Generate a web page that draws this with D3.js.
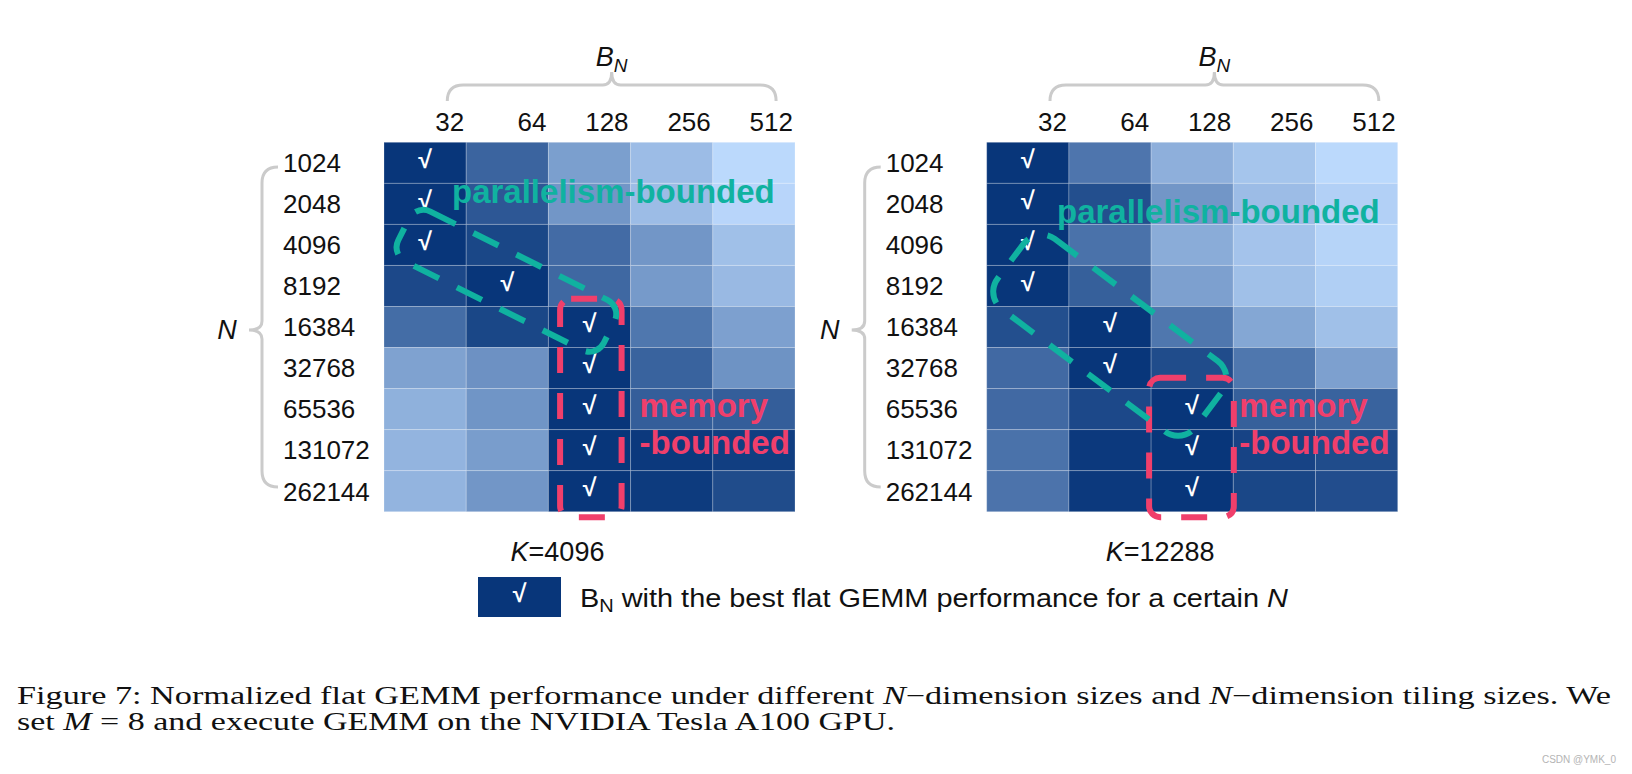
<!DOCTYPE html>
<html><head><meta charset="utf-8">
<script src="https://cdn.jsdelivr.net/npm/d3@7"></script>
<style>body{margin:0;background:#fff;} svg{display:block;}</style>
</head><body>
<svg id="chart" width="1632" height="774"></svg>
<script>
// ---------- data ----------
const nSizes = ["1024","2048","4096","8192","16384","32768","65536","131072","262144"];
const bnSizes = ["32","64","128","256","512"];
// normalized flat GEMM performance (rows = N, cols = B_N)
const perfK4096 = [
 [1.00,0.72,0.37,0.19,0.02],
 [1.00,0.80,0.42,0.19,0.04],
 [1.00,0.90,0.68,0.42,0.17],
 [0.89,1.00,0.70,0.40,0.21],
 [0.67,0.90,1.00,0.61,0.36],
 [0.35,0.45,1.00,0.73,0.44],
 [0.26,0.43,1.00,0.76,0.76],
 [0.24,0.38,1.00,0.98,0.95],
 [0.24,0.42,1.00,0.97,0.87]];
const perfK12288 = [
 [1.00,0.62,0.27,0.14,0.02],
 [1.00,0.85,0.42,0.19,0.07],
 [1.00,0.64,0.29,0.15,0.05],
 [1.00,0.75,0.36,0.17,0.08],
 [0.85,1.00,0.61,0.32,0.17],
 [0.69,1.00,0.87,0.61,0.36],
 [0.69,0.89,1.00,0.75,0.73],
 [0.64,0.98,1.00,0.92,0.87],
 [0.63,0.98,1.00,0.90,0.86]];
const bestK4096 = ["32","32","32","64","128","128","128","128","128"];
const bestK12288 = ["32","32","32","32","64","64","128","128","128"];
const kValues = ["4096","12288"];
const legendText = " with the best flat GEMM performance for a certain ";

// ---------- layout ----------
const svg = d3.select("#chart");
const TOP = 142.3, H = 369.4, W = 411;
const TEAL = "#10b2a0", PINK = "#f03f6b", BRACE = "#cbcbcb";
const color = d3.scaleLinear().domain([0,1]).range(["#bfdcff","#08367a"]).interpolate(d3.interpolateRgb);
const LABEL_FONT = "'Liberation Sans', Arial, sans-serif";

const panels = [
 {x0:384, perf:perfK4096, best:bestK4096, k:kValues[0],
  teal:{a:["4096","32"], b:["16384","128"], dx:0, dy:-4.7, ext0:24, ext1:22, w:56, r:16},
  pink:{col:"128", row:"16384", l:11.7, rr:-9, t:-7.7},
  par:{dx:68, base:61}, mem:{col:"256", dx:9}},
 {x0:986.7, perf:perfK12288, best:bestK12288, k:kValues[1],
  teal:{a:["8192","32"], b:["65536","128"], dx:3, dy:-10, ext0:25, ext1:17, w:88, r:22},
  pink:{col:"128", row:"65536", l:-2, rr:0.5, t:-10.7},
  par:{dx:70.3, base:81}, mem:{col:"256", dx:6}}
];

panels.forEach(p => {
  const x = d3.scaleBand().domain(bnSizes).range([p.x0, p.x0 + W]);
  const y = d3.scaleBand().domain(nSizes).range([TOP, TOP + H]);
  const bw = x.bandwidth(), bh = y.bandwidth();
  const g = svg.append("g");

  // cells
  const cells = [];
  nSizes.forEach((n,i) => bnSizes.forEach((b,j) => cells.push({n, b, v:p.perf[i][j]})));
  g.selectAll("rect.cell").data(cells).join("rect").attr("class","cell")
    .attr("x", d => x(d.b)).attr("y", d => y(d.n)).attr("width", bw).attr("height", bh)
    .attr("fill", d => color(d.v))
    .attr("stroke", "rgba(255,255,255,0.22)").attr("stroke-width", 1);

  // check marks
  g.selectAll("text.chk").data(nSizes.map((n,i) => ({n, b:p.best[i]}))).join("text")
    .attr("class","chk").attr("x", d => x(d.b) + bw/2).attr("y", d => y(d.n) + bh/2 - 3.5)
    .attr("dy","0.35em").attr("text-anchor","middle").attr("fill","#fff")
    .style("font", `bold 25px ${LABEL_FONT}`).text("√");

  // column labels (right-aligned on band edge)
  g.selectAll("text.col").data(bnSizes).join("text").attr("class","col")
    .attr("x", d => x(d) + bw - 2).attr("y", 131).attr("text-anchor","end")
    .attr("fill","#111").style("font", `26px ${LABEL_FONT}`).text(d => d);

  // row labels
  g.selectAll("text.row").data(nSizes).join("text").attr("class","row")
    .attr("x", p.x0 - 101).attr("y", d => y(d) + bh/2).attr("dy","0.36em")
    .attr("fill","#111").style("font", `26px ${LABEL_FONT}`).text(d => d);

  // top brace
  const bx1 = x(bnSizes[0]) + bw*0.77, bx2 = x(bnSizes[4]) + bw*0.77, tip = (bx1+bx2)/2;
  g.append("path").attr("fill","none").attr("stroke",BRACE).attr("stroke-width",3)
    .attr("d", `M${bx1},101 Q${bx1},85 ${bx1+16},85 L${tip-9},85 Q${tip},85 ${tip},72 Q${tip},85 ${tip+9},85 L${bx2-16},85 Q${bx2},85 ${bx2},101`);
  const bn = g.append("text").attr("x", tip).attr("y", 66).attr("text-anchor","middle")
    .attr("fill","#111").style("font", `italic 27px ${LABEL_FONT}`);
  bn.append("tspan").text("B");
  bn.append("tspan").attr("dy", 6).style("font-size","19px").text("N");

  // left brace
  const ymid = y("16384") + bh/2 + 3;
  const lx = p.x0 - 122, ex = p.x0 - 106, tx = p.x0 - 135;
  g.append("path").attr("fill","none").attr("stroke",BRACE).attr("stroke-width",3)
    .attr("d", `M${ex},167 Q${lx},167 ${lx},183 L${lx},${ymid-9} Q${lx},${ymid} ${tx},${ymid} Q${lx},${ymid} ${lx},${ymid+9} L${lx},471 Q${lx},487 ${ex},487`);
  g.append("text").attr("x", p.x0 - 157).attr("y", ymid).attr("dy","0.35em").attr("text-anchor","middle")
    .attr("fill","#111").style("font", `italic 27px ${LABEL_FONT}`).text("N");

  // K label
  const kt = g.append("text").attr("x", p.x0 + W/2 - 32).attr("y", 561).attr("text-anchor","middle")
    .attr("fill","#111").style("font", `27px ${LABEL_FONT}`);
  kt.append("tspan").style("font-style","italic").text("K");
  kt.append("tspan").text("=" + p.k);

  // memory-bounded dashed box
  const pk = p.pink;
  const px1 = x(pk.col) + pk.l, px2 = x(pk.col) + bw + pk.rr;
  const py1 = y(pk.row) + pk.t, py2 = TOP + H + 5.5;
  g.append("rect").attr("x", px1).attr("y", py1).attr("width", px2-px1).attr("height", py2-py1)
    .attr("rx", 11).attr("fill","none").attr("stroke", PINK).attr("stroke-width", 6)
    .attr("stroke-dasharray","26 20");

  // parallelism-bounded dashed rotated box
  const t = p.teal;
  const ax = x(t.a[1]) + bw/2 + t.dx, ay = y(t.a[0]) + bh/2 + t.dy;
  const cx = x(t.b[1]) + bw/2 + t.dx, cy = y(t.b[0]) + bh/2 + t.dy;
  const ang = Math.atan2(cy-ay, cx-ax) * 180 / Math.PI, len = Math.hypot(cx-ax, cy-ay);
  g.append("rect").attr("x", -t.ext0).attr("y", -t.w/2).attr("width", len + t.ext0 + t.ext1).attr("height", t.w)
    .attr("rx", t.r).attr("transform", `translate(${ax},${ay}) rotate(${ang})`)
    .attr("fill","none").attr("stroke", TEAL).attr("stroke-width", 6).attr("stroke-dasharray","28 20");

  // annotation texts
  g.append("text").attr("x", p.x0 + p.par.dx).attr("y", TOP + p.par.base)
    .attr("fill", TEAL).style("font", `bold 33px ${LABEL_FONT}`).text("parallelism-bounded");
  g.append("text").attr("x", x(p.mem.col) + p.mem.dx).attr("y", TOP + 274.4)
    .attr("fill", PINK).style("font", `bold 33px ${LABEL_FONT}`).text("memory");
  g.append("text").attr("x", x(p.mem.col) + p.mem.dx).attr("y", TOP + 311.7)
    .attr("fill", PINK).style("font", `bold 33px ${LABEL_FONT}`).text("-bounded");
});

// ---------- legend ----------
const lg = svg.append("g");
lg.append("rect").attr("x",478).attr("y",577).attr("width",83).attr("height",40).attr("fill", color(1));
lg.append("text").attr("x",519.5).attr("y",593.5).attr("dy","0.35em").attr("text-anchor","middle")
  .attr("fill","#fff").style("font", `bold 25px ${LABEL_FONT}`).text("√");
const lt = lg.append("text").attr("x",580).attr("y",607).attr("fill","#111")
  .attr("textLength",708).attr("lengthAdjust","spacingAndGlyphs").style("font", `26px ${LABEL_FONT}`);
lt.append("tspan").text("B");
lt.append("tspan").attr("dy",5).style("font-size","18px").text("N");
lt.append("tspan").attr("dy",-5).text(legendText);
lt.append("tspan").style("font-style","italic").text("N");

// ---------- caption ----------
const CAP = "'Liberation Serif', 'Times New Roman', serif";
const c1 = svg.append("text").attr("x",17).attr("y",703.5).attr("fill","#111")
  .attr("textLength",1594).attr("lengthAdjust","spacingAndGlyphs").style("font", `25px ${CAP}`);
c1.append("tspan").text("Figure 7: Normalized flat GEMM performance under different ");
c1.append("tspan").style("font-style","italic").text("N");
c1.append("tspan").text("\u2212dimension sizes and ");
c1.append("tspan").style("font-style","italic").text("N");
c1.append("tspan").text("\u2212dimension tiling sizes. We");
const c2 = svg.append("text").attr("x",17).attr("y",729.5).attr("fill","#111")
  .attr("textLength",878).attr("lengthAdjust","spacingAndGlyphs").style("font", `25px ${CAP}`);
c2.append("tspan").text("set ");
c2.append("tspan").style("font-style","italic").text("M");
c2.append("tspan").text(" = 8 and execute GEMM on the NVIDIA Tesla A100 GPU.");

svg.append("text").attr("x",1616).attr("y",763).attr("text-anchor","end").attr("fill","#b4b4b4")
  .style("font", `10px ${LABEL_FONT}`).text("CSDN @YMK_0");
</script>
</body></html>
